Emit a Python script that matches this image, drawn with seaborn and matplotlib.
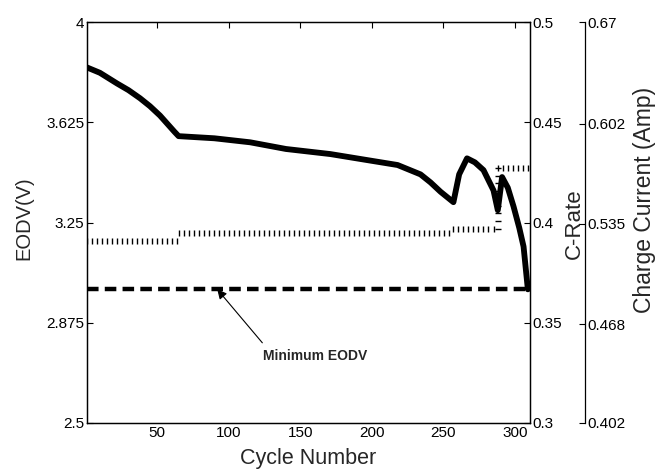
import numpy as np
import pandas as pd
import matplotlib
matplotlib.use("Agg")
import matplotlib.pyplot as plt
import seaborn as sns

# ---- data ----
eodv_cycles = [1, 10, 22, 30, 38, 45, 52, 57, 62, 65, 90, 115, 140, 171, 195, 218,
               234, 241, 248, 257, 261, 266.5, 272, 278, 285, 288, 291, 295, 299, 303, 306, 309]
eodv_volts = [3.83, 3.81, 3.77, 3.745, 3.715, 3.685, 3.65, 3.62, 3.59, 3.573, 3.565, 3.55,
              3.525, 3.506, 3.485, 3.465, 3.43, 3.40, 3.365, 3.326, 3.43, 3.49, 3.475, 3.446,
              3.37, 3.296, 3.42, 3.38, 3.31, 3.23, 3.16, 3.0]

crate_breaks = [1, 65, 257, 288, 310]          # segment boundaries (cycle)
crate_values = [0.391, 0.395, 0.397, 0.427]    # C-rate on each segment

min_eodv = 3.0
x_ticks = [50, 100, 150, 200, 250, 300]
eodv_ticks = [2.5, 2.875, 3.25, 3.625, 4]
eodv_ticklabels = ["2.5", "2.875", "3.25", "3.625", "4"]
crate_ticks = [0.3, 0.35, 0.4, 0.45, 0.5]
crate_ticklabels = ["0.3", "0.35", "0.4", "0.45", "0.5"]
current_ticks = [0.402, 0.468, 0.535, 0.602, 0.67]
current_ticklabels = ["0.402", "0.468", "0.535", "0.602", "0.67"]

# ---- style ----
sns.set_style("white")
plt.rcParams["font.family"] = ["Liberation Sans", "DejaVu Sans"]
plt.rcParams["axes.edgecolor"] = "black"
plt.rcParams["axes.linewidth"] = 0.9

fig = plt.figure(figsize=(6.57, 4.70), dpi=100)
ax = fig.add_axes([87 / 657, 1 - 423 / 470, 443 / 657, 401 / 470])

df_eodv = pd.DataFrame({"cycle": eodv_cycles, "eodv": eodv_volts})
sns.lineplot(data=df_eodv, x="cycle", y="eodv", ax=ax, color="black", lw=4.2,
             estimator=None, sort=False, solid_joinstyle="round", solid_capstyle="round")

df_min = pd.DataFrame({"cycle": [1, 310], "v": [min_eodv, min_eodv]})
sns.lineplot(data=df_min, x="cycle", y="v", ax=ax, color="black", lw=3.2,
             estimator=None, dashes=False, linestyle=(0, (2.6, 1.4)))

ax.set_xlim(1, 310.5)
ax.set_ylim(2.5, 4.0)
ax.set_xticks(x_ticks)
ax.set_yticks(eodv_ticks)
ax.set_yticklabels(eodv_ticklabels)
ax.tick_params(direction="in", length=4, width=0.8, labelsize=11, top=True,
               colors="black", pad=2)
ax.set_xlabel("Cycle Number", fontsize=15.5)
ax.set_ylabel("EODV(V)", fontsize=14.5)
ax.xaxis.set_label_coords(0.5, -0.063)
ax.yaxis.set_label_coords(-0.122, 0.51)
for s in ax.spines.values():
    s.set_visible(True)
    s.set_color("black")

# annotation
ax.annotate("", xy=(92, min_eodv), xytext=(123.5, 2.80),
            arrowprops=dict(arrowstyle="-|>", color="black", lw=0.8,
                            mutation_scale=14, shrinkA=0, shrinkB=0))
ax.text(124, 2.749, "Minimum EODV", fontsize=10, fontweight="bold",
        family=["Liberation Sans", "DejaVu Sans"], va="center", ha="left")

# ---- C-rate axis ----
ax2 = ax.twinx()
for i in range(len(crate_values)):
    xs = np.arange(crate_breaks[i], crate_breaks[i + 1], 3.5)
    seg = pd.DataFrame({"cycle": xs, "rate": [crate_values[i]] * len(xs)})
    sns.lineplot(data=seg, x="cycle", y="rate", ax=ax2, color="black", marker="|",
                 markersize=5, markeredgewidth=1.0, markeredgecolor="black",
                 linestyle="none", estimator=None)
# vertical jump of the C-rate at cycle 288
jump = pd.DataFrame({"cycle": [288] * 9,
                     "rate": np.linspace(crate_values[2], crate_values[3], 9)})
sns.lineplot(data=jump, x="cycle", y="rate", ax=ax2, color="black", marker="_",
             markersize=5, markeredgewidth=1.0, markeredgecolor="black",
             linestyle="none", estimator=None)
ax2.set_ylim(0.3, 0.5)
ax2.set_yticks(crate_ticks)
ax2.set_yticklabels(crate_ticklabels)
ax2.tick_params(direction="in", length=4, width=0.8, labelsize=11, colors="black", pad=2)
ax2.set_ylabel("C-Rate", fontsize=16)
ax2.yaxis.set_label_coords(1.076, 0.496)
ax2.set_xlim(1, 310.5)
ax2.set_xlabel("")

# ---- Charge current axis ----
ax3 = ax.twinx()
ax3.spines["right"].set_position(("axes", 1.124))
for k in ["left", "top", "bottom"]:
    ax3.spines[k].set_visible(False)
ax3.spines["right"].set_visible(True)
ax3.spines["right"].set_color("black")
ax3.set_ylim(0.402, 0.67)
ax3.set_yticks(current_ticks)
ax3.set_yticklabels(current_ticklabels)
ax3.tick_params(direction="in", length=4, width=0.8, labelsize=11, colors="black", pad=2)
ax3.set_ylabel("Charge Current (Amp)", fontsize=16.5)
ax3.yaxis.set_label_coords(1.232, 0.556)
ax3.grid(False)
ax2.grid(False)
ax.grid(False)

fig.savefig("out.png", dpi=100)
